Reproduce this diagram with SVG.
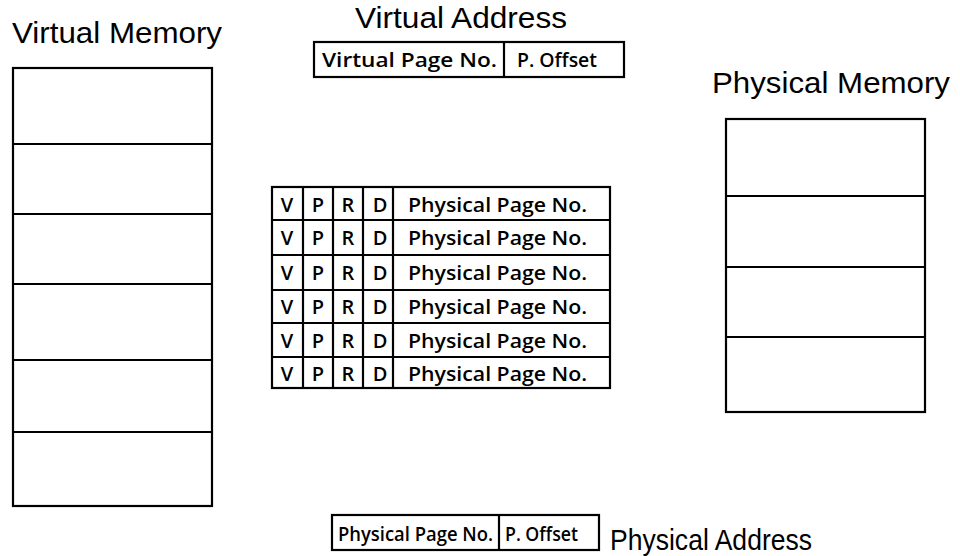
<svg xmlns="http://www.w3.org/2000/svg" width="960" height="556" viewBox="0 0 960 556">
<style>
.box{fill:#fff;stroke:#000;stroke-width:2.2}
.ln{stroke:#000;stroke-width:2.2;fill:none}
.title{font-family:"Liberation Sans",Arial,sans-serif;font-size:30px;fill:#000}
.lbl{font-family:"Open Sans","DejaVu Sans",sans-serif;font-size:20px;font-weight:600;fill:#000}
.flag{font-family:"Open Sans","DejaVu Sans",sans-serif;font-size:20px;font-weight:600;fill:#000;text-anchor:middle}
</style>
<rect width="960" height="556" fill="#fff"/>
<g id="virtual-memory">
<text class="title" x="12" y="43" textLength="210" lengthAdjust="spacingAndGlyphs">Virtual Memory</text>
<rect class="box" x="13" y="68" width="199" height="438"/>
<path class="ln" d="M13 144H212M13 214H212M13 284H212M13 360H212M13 432H212"/>
</g>
<g id="virtual-address">
<text class="title" x="355" y="28" textLength="212" lengthAdjust="spacingAndGlyphs">Virtual Address</text>
<rect class="box" x="314" y="42" width="310" height="35"/>
<path class="ln" d="M504 42V77"/>
<text class="lbl" x="322" y="67" textLength="175" lengthAdjust="spacingAndGlyphs">Virtual Page No.</text>
<text class="lbl" x="517" y="67" textLength="80" lengthAdjust="spacingAndGlyphs">P. Offset</text>
</g>
<g id="page-table">
<rect class="box" x="272" y="187" width="338" height="201"/>
<path class="ln" d="M272 220H610M272 255H610M272 290H610M272 323H610M272 357H610M303 187V388M333 187V388M363 187V388M393 187V388"/>
<g class="flag">
<text x="287" y="212">V</text><text x="318" y="212">P</text><text x="348" y="212">R</text><text x="380" y="212">D</text>
<text x="287" y="245">V</text><text x="318" y="245">P</text><text x="348" y="245">R</text><text x="380" y="245">D</text>
<text x="287" y="280">V</text><text x="318" y="280">P</text><text x="348" y="280">R</text><text x="380" y="280">D</text>
<text x="287" y="314">V</text><text x="318" y="314">P</text><text x="348" y="314">R</text><text x="380" y="314">D</text>
<text x="287" y="348">V</text><text x="318" y="348">P</text><text x="348" y="348">R</text><text x="380" y="348">D</text>
<text x="287" y="381">V</text><text x="318" y="381">P</text><text x="348" y="381">R</text><text x="380" y="381">D</text>
</g>
<text class="lbl" x="408" y="212" textLength="179" lengthAdjust="spacingAndGlyphs">Physical  Page No.</text>
<text class="lbl" x="408" y="245" textLength="179" lengthAdjust="spacingAndGlyphs">Physical  Page No.</text>
<text class="lbl" x="408" y="280" textLength="179" lengthAdjust="spacingAndGlyphs">Physical  Page No.</text>
<text class="lbl" x="408" y="314" textLength="179" lengthAdjust="spacingAndGlyphs">Physical  Page No.</text>
<text class="lbl" x="408" y="348" textLength="179" lengthAdjust="spacingAndGlyphs">Physical  Page No.</text>
<text class="lbl" x="408" y="381" textLength="179" lengthAdjust="spacingAndGlyphs">Physical  Page No.</text>
</g>
<g id="physical-memory">
<text class="title" x="712" y="93" textLength="238" lengthAdjust="spacingAndGlyphs">Physical Memory</text>
<rect class="box" x="726" y="119" width="199" height="293"/>
<path class="ln" d="M726 196H925M726 267H925M726 337H925"/>
</g>
<g id="physical-address">
<rect class="box" x="332" y="515" width="267" height="35"/>
<path class="ln" d="M499 515V550"/>
<text class="lbl" x="338" y="541" textLength="155" lengthAdjust="spacingAndGlyphs">Physical  Page No.</text>
<text class="lbl" x="505" y="541" textLength="73" lengthAdjust="spacingAndGlyphs">P. Offset</text>
<text class="title" x="610" y="550" textLength="202" lengthAdjust="spacingAndGlyphs">Physical Address</text>
</g>
<g id="connectors"/>
</svg>
